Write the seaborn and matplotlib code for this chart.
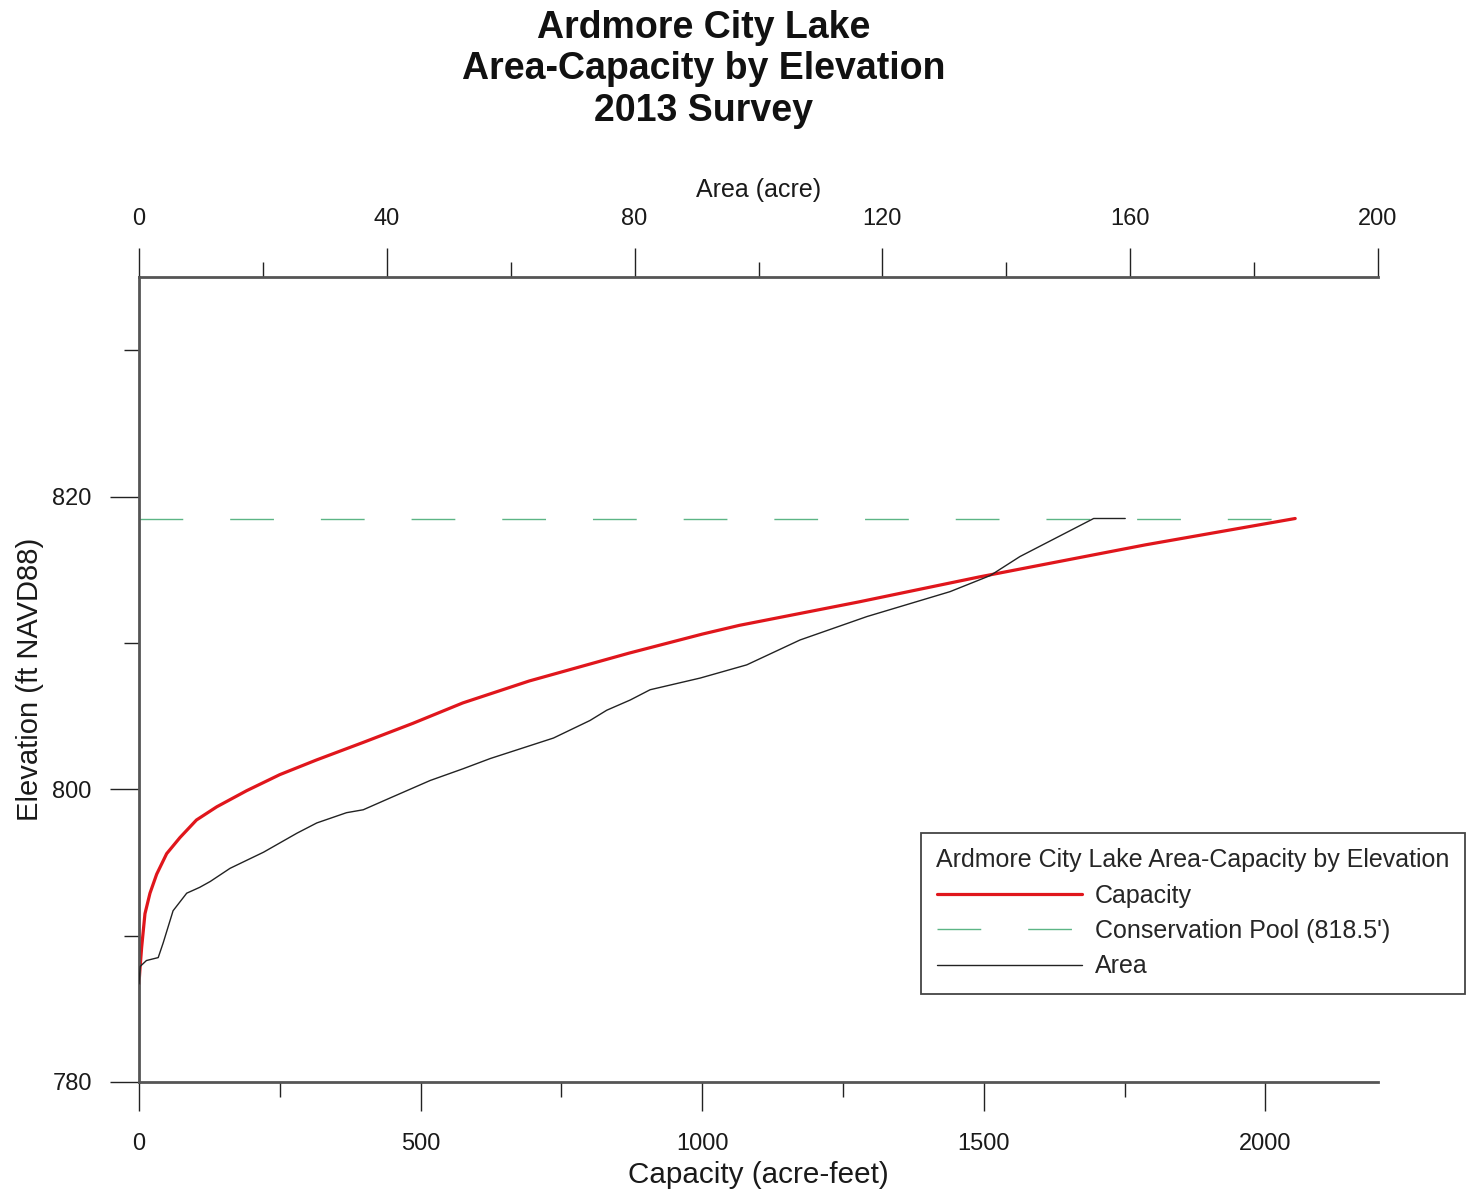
import matplotlib
matplotlib.use("Agg")
import matplotlib.pyplot as plt
import matplotlib.ticker as mticker
from matplotlib.lines import Line2D
import seaborn as sns

# values
cap_elev = [786.7, 787.6, 789.2, 791.5, 792.9, 794.2, 795.6, 796.7, 797.9, 798.8,
            799.9, 801.0, 802.0, 803.2, 804.5, 805.9, 807.4, 809.3, 810.6, 811.2,
            812.8, 814.5, 816.7, 818.5]
capacity = [0, 1.5, 4.7, 10.6, 19.5, 31.4, 49.1, 72.7, 102, 138,
            191, 250, 315, 398, 486, 575, 693, 870, 1000, 1066,
            1278, 1491, 1787, 2053]

area_elev = [786.7, 787.9, 788.3, 788.5, 789.5, 791.7, 792.9, 793.3, 793.7, 794.6,
             795.7, 797.0, 797.7, 798.4, 798.6, 799.4, 800.6, 801.4, 802.1, 803.5,
             804.7, 805.4, 806.1, 806.8, 807.6, 808.5, 810.2, 811.8, 813.5, 814.6,
             815.9, 818.5, 818.5]
area = [0, 0.2, 1.2, 3.1, 3.9, 5.5, 7.7, 9.8, 11.5, 14.7,
        20.1, 25.5, 28.7, 33.5, 36.2, 40.5, 47.0, 52.3, 56.7, 66.9,
        72.8, 75.5, 79.3, 82.5, 90.6, 98.1, 106.7, 117.5, 130.9, 137.4,
        142.2, 154.1, 159.2]

pool_elev = 818.5

title = "Ardmore City Lake\nArea-Capacity by Elevation\n2013 Survey"
legend_title = "Ardmore City Lake Area-Capacity by Elevation"
labels = ["Capacity", "Conservation Pool (818.5')", "Area"]

RED = "#e0161c"
GREEN = "#5cb585"
SPINE = "#555555"
DASH = (31.5, 33.8)

sns.set_theme(style="ticks")
plt.rcParams['font.family'] = ['Liberation Sans', 'DejaVu Sans']

fig = plt.figure(figsize=(14.67, 11.94), dpi=100)
ax = fig.add_axes([139 / 1467, 1 - 1082 / 1194, (1378 - 139) / 1467, (1082 - 277) / 1194])

sns.lineplot(x=[0, capacity[-1]], y=[pool_elev, pool_elev], ax=ax, color=GREEN,
             linewidth=1.0, legend=False)
ax.lines[-1].set_dashes(DASH)
sns.lineplot(x=capacity, y=cap_elev, ax=ax, color=RED, linewidth=2.3,
             sort=False, estimator=None, legend=False)

ax2 = ax.twiny()
sns.lineplot(x=area, y=area_elev, ax=ax2, color="#222222", linewidth=1.0,
             sort=False, estimator=None, legend=False)

ax.set_xlim(0, 2200)
ax.set_ylim(780, 835)
ax2.set_xlim(0, 200)

ax.xaxis.set_major_locator(mticker.MultipleLocator(500))
ax.xaxis.set_minor_locator(mticker.MultipleLocator(250))
ax.yaxis.set_major_locator(mticker.MultipleLocator(20))
ax.yaxis.set_minor_locator(mticker.MultipleLocator(10))
ax2.xaxis.set_major_locator(mticker.MultipleLocator(40))
ax2.xaxis.set_minor_locator(mticker.MultipleLocator(20))

for a in (ax, ax2):
    for s in a.spines.values():
        s.set_visible(False)
        s.set_color(SPINE)
        s.set_linewidth(2)
ax.spines['left'].set_visible(True)
ax.spines['bottom'].set_visible(True)
ax2.spines['top'].set_visible(True)

tick_kw = dict(direction='out', color='#222222', width=1, labelsize=17, labelcolor='#1a1a1a')
ax.tick_params(axis='x', which='major', length=21, pad=16, **tick_kw)
ax.tick_params(axis='y', which='major', length=21, pad=13, **tick_kw)
ax.tick_params(axis='both', which='minor', length=11, **tick_kw)
ax2.tick_params(axis='x', which='major', length=21, pad=13, **tick_kw)
ax2.tick_params(axis='x', which='minor', length=11, **tick_kw)

ax.set_xlabel("Capacity (acre-feet)", fontsize=21.3, color='#1a1a1a', labelpad=4)
ax.set_ylabel("Elevation (ft NAVD88)", fontsize=21, color='#1a1a1a', labelpad=6)
ax2.set_xlabel("Area (acre)", fontsize=18, color='#1a1a1a', labelpad=8)

fig.text(704 / 1467, 1 - 10 / 1194, title, ha='center', va='top', fontsize=27,
         fontweight='bold', linespacing=1.19, color='#111111')

handles = [Line2D([], [], color=RED, linewidth=2.3),
           Line2D([], [], color=GREEN, linewidth=1.0, dashes=DASH),
           Line2D([], [], color="#222222", linewidth=1.0)]
leg = fig.legend(handles, labels, title=legend_title, loc='upper left',
                 bbox_to_anchor=(921 / 1467, 1 - 833 / 1194), bbox_transform=fig.transFigure,
                 borderaxespad=0, fontsize=18, title_fontsize=18, alignment='left',
                 handlelength=5.8, handletextpad=0.55, labelspacing=0.45, borderpad=0.62,
                 fancybox=False, framealpha=1, edgecolor='#444444')
leg.get_frame().set_linewidth(1.3)

fig.savefig("out.png", dpi=100)
